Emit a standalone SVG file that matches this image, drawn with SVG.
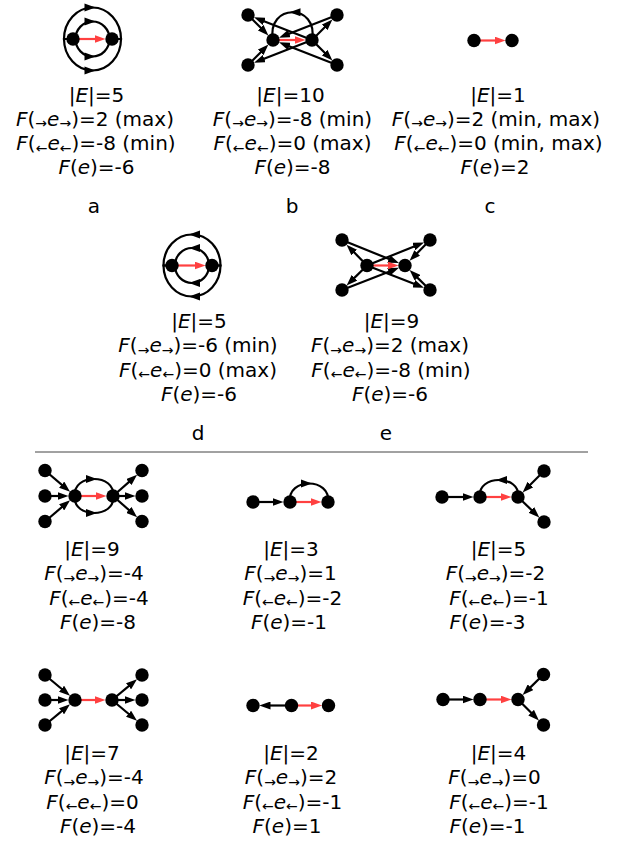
<svg xmlns="http://www.w3.org/2000/svg" width="623" height="844" viewBox="0 0 623 844">
<style>
.t{font-family:"DejaVu Sans","Liberation Sans",sans-serif;font-size:20px;text-anchor:middle;fill:#000}
.i{font-style:italic}
.s{font-size:14px}
.e{stroke:#000;stroke-width:2.2;fill:none;marker-end:url(#mk)}
.r{stroke:#ff4040;stroke-width:2.2;fill:none;marker-end:url(#mkr)}
.a{stroke:#000;stroke-width:2.2;fill:none}
.n{fill:#000}
</style>
<defs>
<marker id="mk" viewBox="0 0 11 8" refX="3" refY="4" markerWidth="11" markerHeight="8" orient="auto" markerUnits="userSpaceOnUse"><path d="M0,0 L11,4 L0,8 Z" fill="#000"/></marker>
<marker id="mkr" viewBox="0 0 11 8" refX="3" refY="4" markerWidth="11" markerHeight="8" orient="auto" markerUnits="userSpaceOnUse"><path d="M0,0 L11,4 L0,8 Z" fill="#ff4040"/></marker>
<path id="hR" d="M3,0 L-8,-4 L-8,4 Z" fill="#000"/>
<path id="hL" d="M-3,0 L8,-4 L8,4 Z" fill="#000"/>
</defs>

<g id="connectors">
<!-- a -->
<path class="a" d="M73,39 L64,39 A28.5,31.5 0 0 1 121,39 L112,39"/>
<path class="a" d="M75.5,39 A17,17.5 0 0 1 109.5,39"/>
<path class="a" d="M75.5,39 A17,17.5 0 0 0 109.5,39"/>
<path class="a" d="M73,39 L64,39 A28.5,31.5 0 0 0 121,39 L112,39"/>
<use href="#hR" x="92.5" y="7.5"/><use href="#hR" x="92.5" y="21.5"/><use href="#hR" x="92.5" y="56.5"/><use href="#hR" x="92.5" y="70.5"/>
<line class="r" x1="73" y1="39" x2="97.5" y2="39"/>
<!-- b -->
<line class="e" x1="248" y1="15" x2="262.75" y2="29.75"/>
<line class="e" x1="312" y1="40" x2="261.51" y2="20.28"/>
<line class="e" x1="248" y1="65" x2="262.75" y2="50.25"/>
<line class="e" x1="312" y1="40" x2="261.51" y2="59.72"/>
<line class="e" x1="337" y1="15" x2="286.51" y2="34.72"/>
<line class="e" x1="312" y1="40" x2="326.75" y2="25.25"/>
<line class="e" x1="337" y1="65" x2="286.51" y2="45.28"/>
<line class="e" x1="312" y1="40" x2="326.75" y2="54.75"/>
<path class="a" d="M273,40 C266,3 319,3 312,40"/>
<use href="#hL" x="292.5" y="12.25"/>
<line class="r" x1="273" y1="40" x2="297.5" y2="40"/>
<!-- c -->
<line class="r" x1="474" y1="40.5" x2="497.5" y2="40.5"/>
<!-- d -->
<path class="a" d="M172,265.5 L163.5,265.5 A28.5,31 0 0 1 220.5,265.5 L212,265.5"/>
<path class="a" d="M175,265.5 A17,17.5 0 0 1 209,265.5"/>
<path class="a" d="M175,265.5 A17,17.5 0 0 0 209,265.5"/>
<path class="a" d="M172,265.5 L163.5,265.5 A28.5,31 0 0 0 220.5,265.5 L212,265.5"/>
<use href="#hL" x="192" y="234.5"/><use href="#hL" x="192" y="248"/><use href="#hL" x="192" y="283"/><use href="#hL" x="192" y="296.5"/>
<line class="r" x1="172" y1="265.5" x2="197.5" y2="265.5"/>
<!-- e -->
<line class="e" x1="367" y1="265.5" x2="352.15" y2="250.35"/>
<line class="e" x1="367" y1="265.5" x2="352.35" y2="279.85"/>
<line class="e" x1="367" y1="265.5" x2="416.56" y2="245.44"/>
<line class="e" x1="367" y1="265.5" x2="416.49" y2="284.75"/>
<line class="e" x1="342" y1="240" x2="391.56" y2="260.06"/>
<line class="e" x1="342" y1="290" x2="391.49" y2="270.75"/>
<line class="e" x1="430" y1="240" x2="415.15" y2="255.15"/>
<line class="e" x1="430" y1="290" x2="415.35" y2="275.65"/>
<line class="r" x1="367" y1="265.5" x2="390.5" y2="265.5"/>
<!-- row1 left -->
<line class="e" x1="45" y1="470.5" x2="63.95" y2="486.61"/>
<line class="e" x1="45" y1="496" x2="60.5" y2="496"/>
<line class="e" x1="45" y1="521.5" x2="63.95" y2="505.39"/>
<line class="e" x1="113" y1="496" x2="131.11" y2="480.07"/>
<line class="e" x1="113" y1="496" x2="127.5" y2="496"/>
<line class="e" x1="113" y1="496" x2="131.11" y2="511.93"/>
<path class="a" d="M75,496 C72,473.33 116,473.33 113,496"/>
<path class="a" d="M75,496 C72,518.67 116,518.67 113,496"/>
<use href="#hR" x="94" y="479"/><use href="#hR" x="94" y="513"/>
<line class="r" x1="75" y1="496" x2="98.5" y2="496"/>
<!-- row1 middle -->
<line class="e" x1="253" y1="502" x2="275.5" y2="502"/>
<path class="a" d="M290,502 C287,477.33 331,477.33 328,502"/>
<use href="#hR" x="309" y="483.5"/>
<line class="r" x1="290" y1="502" x2="313.5" y2="502"/>
<!-- row1 right -->
<line class="e" x1="442" y1="497" x2="465.5" y2="497"/>
<path class="a" d="M480,497 C477,474.33 521,474.33 518,497"/>
<use href="#hL" x="499" y="480"/>
<line class="e" x1="544" y1="471" x2="528.25" y2="486.75"/>
<line class="e" x1="518" y1="497" x2="533.55" y2="511.95"/>
<line class="r" x1="480" y1="497" x2="503.5" y2="497"/>
<!-- row2 left -->
<line class="e" x1="45" y1="675" x2="63.86" y2="690.72"/>
<line class="e" x1="45" y1="700" x2="60.5" y2="700"/>
<line class="e" x1="45" y1="725" x2="63.86" y2="709.28"/>
<line class="e" x1="112" y1="700" x2="130.86" y2="684.28"/>
<line class="e" x1="112" y1="700" x2="127.5" y2="700"/>
<line class="e" x1="112" y1="700" x2="130.86" y2="715.72"/>
<line class="r" x1="75" y1="700" x2="97.5" y2="700"/>
<!-- row2 middle -->
<line class="e" x1="291.5" y1="705.5" x2="267.5" y2="705.5"/>
<line class="r" x1="291.5" y1="705.5" x2="314" y2="705.5"/>
<!-- row2 right -->
<line class="e" x1="443" y1="699.5" x2="465.5" y2="699.5"/>
<line class="e" x1="543.5" y1="674.5" x2="528.35" y2="689.35"/>
<line class="e" x1="518" y1="699.5" x2="533.25" y2="714.75"/>
<line class="r" x1="480" y1="699.5" x2="503.5" y2="699.5"/>
</g>

<line id="divider" x1="35" y1="452" x2="588" y2="452" stroke="#444" stroke-width="1"/>

<g id="nodes">
<g id="a-u"><circle class="n" cx="73" cy="39" r="6.7"/></g>
<g id="a-v"><circle class="n" cx="112" cy="39" r="6.7"/></g>
<g id="b-tl"><circle class="n" cx="248" cy="15" r="6.7"/></g>
<g id="b-bl"><circle class="n" cx="248" cy="65" r="6.7"/></g>
<g id="b-tr"><circle class="n" cx="337" cy="15" r="6.7"/></g>
<g id="b-br"><circle class="n" cx="337" cy="65" r="6.7"/></g>
<g id="b-u"><circle class="n" cx="273" cy="40" r="6.7"/></g>
<g id="b-v"><circle class="n" cx="312" cy="40" r="6.7"/></g>
<g id="c-u"><circle class="n" cx="474" cy="40.5" r="6.7"/></g>
<g id="c-v"><circle class="n" cx="512" cy="40.5" r="6.7"/></g>
<g id="d-u"><circle class="n" cx="172" cy="265.5" r="6.7"/></g>
<g id="d-v"><circle class="n" cx="212" cy="265.5" r="6.7"/></g>
<g id="e-tl"><circle class="n" cx="342" cy="240" r="6.7"/></g>
<g id="e-bl"><circle class="n" cx="342" cy="290" r="6.7"/></g>
<g id="e-tr"><circle class="n" cx="430" cy="240" r="6.7"/></g>
<g id="e-br"><circle class="n" cx="430" cy="290" r="6.7"/></g>
<g id="e-u"><circle class="n" cx="367" cy="265.5" r="6.7"/></g>
<g id="e-v"><circle class="n" cx="405" cy="265.5" r="6.7"/></g>
<g id="r1l-l1"><circle class="n" cx="45" cy="470.5" r="6.7"/></g>
<g id="r1l-l2"><circle class="n" cx="45" cy="496" r="6.7"/></g>
<g id="r1l-l3"><circle class="n" cx="45" cy="521.5" r="6.7"/></g>
<g id="r1l-u"><circle class="n" cx="75" cy="496" r="6.7"/></g>
<g id="r1l-v"><circle class="n" cx="113" cy="496" r="6.7"/></g>
<g id="r1l-r1"><circle class="n" cx="142" cy="470.5" r="6.7"/></g>
<g id="r1l-r2"><circle class="n" cx="142" cy="496" r="6.7"/></g>
<g id="r1l-r3"><circle class="n" cx="142" cy="521.5" r="6.7"/></g>
<g id="r1m-w"><circle class="n" cx="253" cy="502" r="6.7"/></g>
<g id="r1m-u"><circle class="n" cx="290" cy="502" r="6.7"/></g>
<g id="r1m-v"><circle class="n" cx="328" cy="502" r="6.7"/></g>
<g id="r1r-w"><circle class="n" cx="442" cy="497" r="6.7"/></g>
<g id="r1r-u"><circle class="n" cx="480" cy="497" r="6.7"/></g>
<g id="r1r-v"><circle class="n" cx="518" cy="497" r="6.7"/></g>
<g id="r1r-tr"><circle class="n" cx="544" cy="471" r="6.7"/></g>
<g id="r1r-br"><circle class="n" cx="544" cy="522" r="6.7"/></g>
<g id="r2l-l1"><circle class="n" cx="45" cy="675" r="6.7"/></g>
<g id="r2l-l2"><circle class="n" cx="45" cy="700" r="6.7"/></g>
<g id="r2l-l3"><circle class="n" cx="45" cy="725" r="6.7"/></g>
<g id="r2l-u"><circle class="n" cx="75" cy="700" r="6.7"/></g>
<g id="r2l-v"><circle class="n" cx="112" cy="700" r="6.7"/></g>
<g id="r2l-r1"><circle class="n" cx="142" cy="675" r="6.7"/></g>
<g id="r2l-r2"><circle class="n" cx="142" cy="700" r="6.7"/></g>
<g id="r2l-r3"><circle class="n" cx="142" cy="725" r="6.7"/></g>
<g id="r2m-w"><circle class="n" cx="253" cy="705.5" r="6.7"/></g>
<g id="r2m-u"><circle class="n" cx="291.5" cy="705.5" r="6.7"/></g>
<g id="r2m-v"><circle class="n" cx="328.5" cy="705.5" r="6.7"/></g>
<g id="r2r-w"><circle class="n" cx="443" cy="699.5" r="6.7"/></g>
<g id="r2r-u"><circle class="n" cx="480" cy="699.5" r="6.7"/></g>
<g id="r2r-v"><circle class="n" cx="518" cy="699.5" r="6.7"/></g>
<g id="r2r-tr"><circle class="n" cx="543.5" cy="674.5" r="6.7"/></g>
<g id="r2r-br"><circle class="n" cx="543.5" cy="725" r="6.7"/></g>
</g>

<g id="labels">
<!-- a -->
<text class="t" x="96.5" y="101.5">|<tspan class="i">E</tspan>|=5</text>
<text class="t" x="95" y="125.75"><tspan class="i">F</tspan>(<tspan class="s" dy="2.5">→</tspan><tspan class="i" dy="-2.5">e</tspan><tspan class="s" dy="2.5">→</tspan><tspan dy="-2.5">)=2 (max)</tspan></text>
<text class="t" x="96" y="150"><tspan class="i">F</tspan>(<tspan class="s" dy="2.5">←</tspan><tspan class="i" dy="-2.5">e</tspan><tspan class="s" dy="2.5">←</tspan><tspan dy="-2.5">)=-8 (min)</tspan></text>
<text class="t" x="96.5" y="174.25"><tspan class="i">F</tspan>(<tspan class="i">e</tspan>)=-6</text>
<text class="t" x="94" y="213">a</text>
<!-- b -->
<text class="t" x="290.5" y="101.5">|<tspan class="i">E</tspan>|=10</text>
<text class="t" x="292.5" y="125.75"><tspan class="i">F</tspan>(<tspan class="s" dy="2.5">→</tspan><tspan class="i" dy="-2.5">e</tspan><tspan class="s" dy="2.5">→</tspan><tspan dy="-2.5">)=-8 (min)</tspan></text>
<text class="t" x="292.5" y="150"><tspan class="i">F</tspan>(<tspan class="s" dy="2.5">←</tspan><tspan class="i" dy="-2.5">e</tspan><tspan class="s" dy="2.5">←</tspan><tspan dy="-2.5">)=0 (max)</tspan></text>
<text class="t" x="292.5" y="174.25"><tspan class="i">F</tspan>(<tspan class="i">e</tspan>)=-8</text>
<text class="t" x="292" y="213">b</text>
<!-- c -->
<text class="t" x="498" y="101.5">|<tspan class="i">E</tspan>|=1</text>
<text class="t" x="496" y="125.75"><tspan class="i">F</tspan>(<tspan class="s" dy="2.5">→</tspan><tspan class="i" dy="-2.5">e</tspan><tspan class="s" dy="2.5">→</tspan><tspan dy="-2.5">)=2 (min, max)</tspan></text>
<text class="t" x="498.5" y="150"><tspan class="i">F</tspan>(<tspan class="s" dy="2.5">←</tspan><tspan class="i" dy="-2.5">e</tspan><tspan class="s" dy="2.5">←</tspan><tspan dy="-2.5">)=0 (min, max)</tspan></text>
<text class="t" x="495" y="174.25"><tspan class="i">F</tspan>(<tspan class="i">e</tspan>)=2</text>
<text class="t" x="490" y="213">c</text>
<!-- d -->
<text class="t" x="199" y="328">|<tspan class="i">E</tspan>|=5</text>
<text class="t" x="198" y="352.25"><tspan class="i">F</tspan>(<tspan class="s" dy="2.5">→</tspan><tspan class="i" dy="-2.5">e</tspan><tspan class="s" dy="2.5">→</tspan><tspan dy="-2.5">)=-6 (min)</tspan></text>
<text class="t" x="198" y="376.5"><tspan class="i">F</tspan>(<tspan class="s" dy="2.5">←</tspan><tspan class="i" dy="-2.5">e</tspan><tspan class="s" dy="2.5">←</tspan><tspan dy="-2.5">)=0 (max)</tspan></text>
<text class="t" x="199" y="400.75"><tspan class="i">F</tspan>(<tspan class="i">e</tspan>)=-6</text>
<text class="t" x="198" y="440">d</text>
<!-- e -->
<text class="t" x="391.5" y="328">|<tspan class="i">E</tspan>|=9</text>
<text class="t" x="390" y="352.25"><tspan class="i">F</tspan>(<tspan class="s" dy="2.5">→</tspan><tspan class="i" dy="-2.5">e</tspan><tspan class="s" dy="2.5">→</tspan><tspan dy="-2.5">)=2 (max)</tspan></text>
<text class="t" x="391" y="376.5"><tspan class="i">F</tspan>(<tspan class="s" dy="2.5">←</tspan><tspan class="i" dy="-2.5">e</tspan><tspan class="s" dy="2.5">←</tspan><tspan dy="-2.5">)=-8 (min)</tspan></text>
<text class="t" x="390" y="400.75"><tspan class="i">F</tspan>(<tspan class="i">e</tspan>)=-6</text>
<text class="t" x="386" y="440">e</text>
<!-- row1 left -->
<text class="t" x="92" y="556">|<tspan class="i">E</tspan>|=9</text>
<text class="t" x="94" y="580.3"><tspan class="i">F</tspan>(<tspan class="s" dy="2.5">→</tspan><tspan class="i" dy="-2.5">e</tspan><tspan class="s" dy="2.5">→</tspan><tspan dy="-2.5">)=-4</tspan></text>
<text class="t" x="99" y="604.6"><tspan class="i">F</tspan>(<tspan class="s" dy="2.5">←</tspan><tspan class="i" dy="-2.5">e</tspan><tspan class="s" dy="2.5">←</tspan><tspan dy="-2.5">)=-4</tspan></text>
<text class="t" x="98" y="629"><tspan class="i">F</tspan>(<tspan class="i">e</tspan>)=-8</text>
<!-- row1 middle -->
<text class="t" x="291" y="556">|<tspan class="i">E</tspan>|=3</text>
<text class="t" x="290.5" y="580.3"><tspan class="i">F</tspan>(<tspan class="s" dy="2.5">→</tspan><tspan class="i" dy="-2.5">e</tspan><tspan class="s" dy="2.5">→</tspan><tspan dy="-2.5">)=1</tspan></text>
<text class="t" x="292.5" y="604.6"><tspan class="i">F</tspan>(<tspan class="s" dy="2.5">←</tspan><tspan class="i" dy="-2.5">e</tspan><tspan class="s" dy="2.5">←</tspan><tspan dy="-2.5">)=-2</tspan></text>
<text class="t" x="289" y="629"><tspan class="i">F</tspan>(<tspan class="i">e</tspan>)=-1</text>
<!-- row1 right -->
<text class="t" x="498.5" y="556">|<tspan class="i">E</tspan>|=5</text>
<text class="t" x="495.5" y="580.3"><tspan class="i">F</tspan>(<tspan class="s" dy="2.5">→</tspan><tspan class="i" dy="-2.5">e</tspan><tspan class="s" dy="2.5">→</tspan><tspan dy="-2.5">)=-2</tspan></text>
<text class="t" x="499" y="604.6"><tspan class="i">F</tspan>(<tspan class="s" dy="2.5">←</tspan><tspan class="i" dy="-2.5">e</tspan><tspan class="s" dy="2.5">←</tspan><tspan dy="-2.5">)=-1</tspan></text>
<text class="t" x="487.5" y="629"><tspan class="i">F</tspan>(<tspan class="i">e</tspan>)=-3</text>
<!-- row2 left -->
<text class="t" x="92" y="760">|<tspan class="i">E</tspan>|=7</text>
<text class="t" x="94" y="784.3"><tspan class="i">F</tspan>(<tspan class="s" dy="2.5">→</tspan><tspan class="i" dy="-2.5">e</tspan><tspan class="s" dy="2.5">→</tspan><tspan dy="-2.5">)=-4</tspan></text>
<text class="t" x="92.5" y="808.6"><tspan class="i">F</tspan>(<tspan class="s" dy="2.5">←</tspan><tspan class="i" dy="-2.5">e</tspan><tspan class="s" dy="2.5">←</tspan><tspan dy="-2.5">)=0</tspan></text>
<text class="t" x="98" y="833"><tspan class="i">F</tspan>(<tspan class="i">e</tspan>)=-4</text>
<!-- row2 middle -->
<text class="t" x="291" y="760">|<tspan class="i">E</tspan>|=2</text>
<text class="t" x="291" y="784.3"><tspan class="i">F</tspan>(<tspan class="s" dy="2.5">→</tspan><tspan class="i" dy="-2.5">e</tspan><tspan class="s" dy="2.5">→</tspan><tspan dy="-2.5">)=2</tspan></text>
<text class="t" x="292.5" y="808.6"><tspan class="i">F</tspan>(<tspan class="s" dy="2.5">←</tspan><tspan class="i" dy="-2.5">e</tspan><tspan class="s" dy="2.5">←</tspan><tspan dy="-2.5">)=-1</tspan></text>
<text class="t" x="287" y="833"><tspan class="i">F</tspan>(<tspan class="i">e</tspan>)=1</text>
<!-- row2 right -->
<text class="t" x="498.5" y="760">|<tspan class="i">E</tspan>|=4</text>
<text class="t" x="494.5" y="784.3"><tspan class="i">F</tspan>(<tspan class="s" dy="2.5">→</tspan><tspan class="i" dy="-2.5">e</tspan><tspan class="s" dy="2.5">→</tspan><tspan dy="-2.5">)=0</tspan></text>
<text class="t" x="499" y="808.6"><tspan class="i">F</tspan>(<tspan class="s" dy="2.5">←</tspan><tspan class="i" dy="-2.5">e</tspan><tspan class="s" dy="2.5">←</tspan><tspan dy="-2.5">)=-1</tspan></text>
<text class="t" x="487.5" y="833"><tspan class="i">F</tspan>(<tspan class="i">e</tspan>)=-1</text>
</g>
</svg>
